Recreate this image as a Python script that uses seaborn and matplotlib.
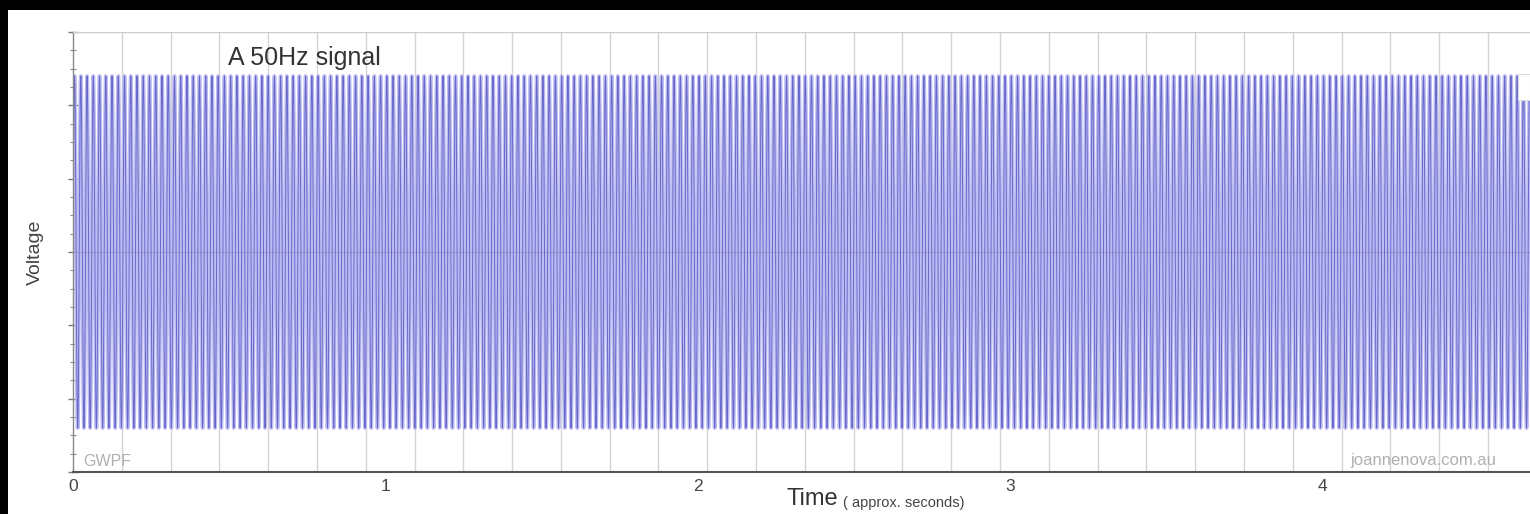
import numpy as np
import pandas as pd
import matplotlib
matplotlib.use("Agg")
import matplotlib.pyplot as plt
from matplotlib.patches import Rectangle
from matplotlib.ticker import MultipleLocator
import seaborn as sns

# Signal definition
FREQ_HZ = 50.0
AMPLITUDE = 2.4
DURATION_S = 4.666
SAMPLE_RATE_HZ = 1000.0

# Axis settings
X_TICKS = [0, 1, 2, 3, 4]
X_TICK_LABELS = ["0", "1", "2", "3", "4"]
Y_LIMITS = (-3, 3)
GRID_STEP_S = 0.15625

TITLE = "A 50Hz signal"
Y_LABEL = "Voltage"
X_LABEL = "Time"
X_LABEL_NOTE = "( approx. seconds)"
LEFT_CREDIT = "GWPF"
RIGHT_CREDIT = "joannenova.com.au"

t = np.arange(0.0, DURATION_S, 1.0 / SAMPLE_RATE_HZ)
v = AMPLITUDE * np.sin(2 * np.pi * FREQ_HZ * t)
df = pd.DataFrame({"time": t, "voltage": v})

sns.set_theme(style="white")
plt.rcParams["font.family"] = ["Liberation Sans", "DejaVu Sans"]

fig = plt.figure(figsize=(15.30, 5.14), dpi=100)
fig.patch.set_facecolor("white")
ax = fig.add_axes([73 / 1530, 42 / 514, 1457 / 1530, 440 / 514])

# wide pale stroke gives the lavender body, thin stroke the darker traces
sns.lineplot(data=df, x="time", y="voltage", ax=ax, estimator=None, sort=False,
             color="#bcbcf3", linewidth=2.7, zorder=2)
sns.lineplot(data=df, x="time", y="voltage", ax=ax, estimator=None, sort=False,
             color="#3c3cb4", linewidth=0.7, alpha=0.65, zorder=2.5)

ax.set_xlim(0, DURATION_S)
ax.set_ylim(*Y_LIMITS)

# grid
ax.xaxis.set_minor_locator(MultipleLocator(GRID_STEP_S))
ax.yaxis.set_major_locator(MultipleLocator(1))
ax.yaxis.set_minor_locator(MultipleLocator(0.25))
ax.grid(which="minor", axis="x", color="#d4d4d4", linewidth=1.0)
ax.set_axisbelow(True)
# faint horizontal rule through zero, visible over the trace
ax.axhline(0, color="#8080a8", linewidth=0.9, alpha=0.45, zorder=3)

ax.set_xticks(X_TICKS)
ax.set_xticklabels(X_TICK_LABELS)
ax.set_yticklabels([])
ax.tick_params(axis="x", which="major", direction="inout", length=8, width=1,
               color="#666666", labelsize=12.5, labelcolor="#444444", pad=1)
ax.tick_params(axis="x", which="minor", direction="in", length=0)
ax.tick_params(axis="y", which="major", direction="inout", length=7, width=1,
               color="#777777", left=True)
ax.tick_params(axis="y", which="minor", direction="inout", length=4, width=0.8,
               color="#888888", left=True)

for side in ("top", "right"):
    ax.spines[side].set_visible(False)
ax.spines["left"].set_color("#888888")
ax.spines["left"].set_linewidth(1.0)
ax.spines["bottom"].set_color("#555555")
ax.spines["bottom"].set_linewidth(1.5)
ax.axhline(Y_LIMITS[1], color="#cccccc", linewidth=1.0, zorder=4)

ax.set_xlabel("")
ax.set_ylabel("")

# text
fig.text(228 / 1530, 1 - 58 / 514, TITLE, fontsize=18, color="#333333",
         ha="left", va="center")
fig.text(35 / 1530, 1 - 252 / 514, Y_LABEL, fontsize=14, color="#444444",
         rotation=90, ha="center", va="center")
fig.text(787 / 1530, 1 - 499 / 514, X_LABEL, fontsize=17, color="#333333",
         ha="left", va="center")
fig.text(843 / 1530, 1 - 503 / 514, X_LABEL_NOTE, fontsize=10.5, color="#444444",
         ha="left", va="center")
fig.text(83 / 1530, 1 - 461 / 514, LEFT_CREDIT, fontsize=11.5, color="#b0b0b0",
         ha="left", va="center")
fig.text(1350 / 1530, 1 - 461 / 514, RIGHT_CREDIT, fontsize=12, color="#b0b0b0",
         ha="left", va="center")

# partial legend box at the right edge
ax.add_patch(Rectangle((1518 / 1530, 1 - 100 / 514), 12 / 1530, 26 / 514,
                       transform=fig.transFigure, facecolor="white",
                       edgecolor="#dddddd", linewidth=0.8, zorder=5, clip_on=False))

# dark frame at top and left
fig.patches.append(Rectangle((0, 1 - 10 / 514), 1, 10 / 514, transform=fig.transFigure,
                             facecolor="black", edgecolor="none", zorder=10))
fig.patches.append(Rectangle((0, 0), 8 / 1530, 1, transform=fig.transFigure,
                             facecolor="black", edgecolor="none", zorder=10))

fig.savefig("out.png", dpi=100, facecolor="white")
